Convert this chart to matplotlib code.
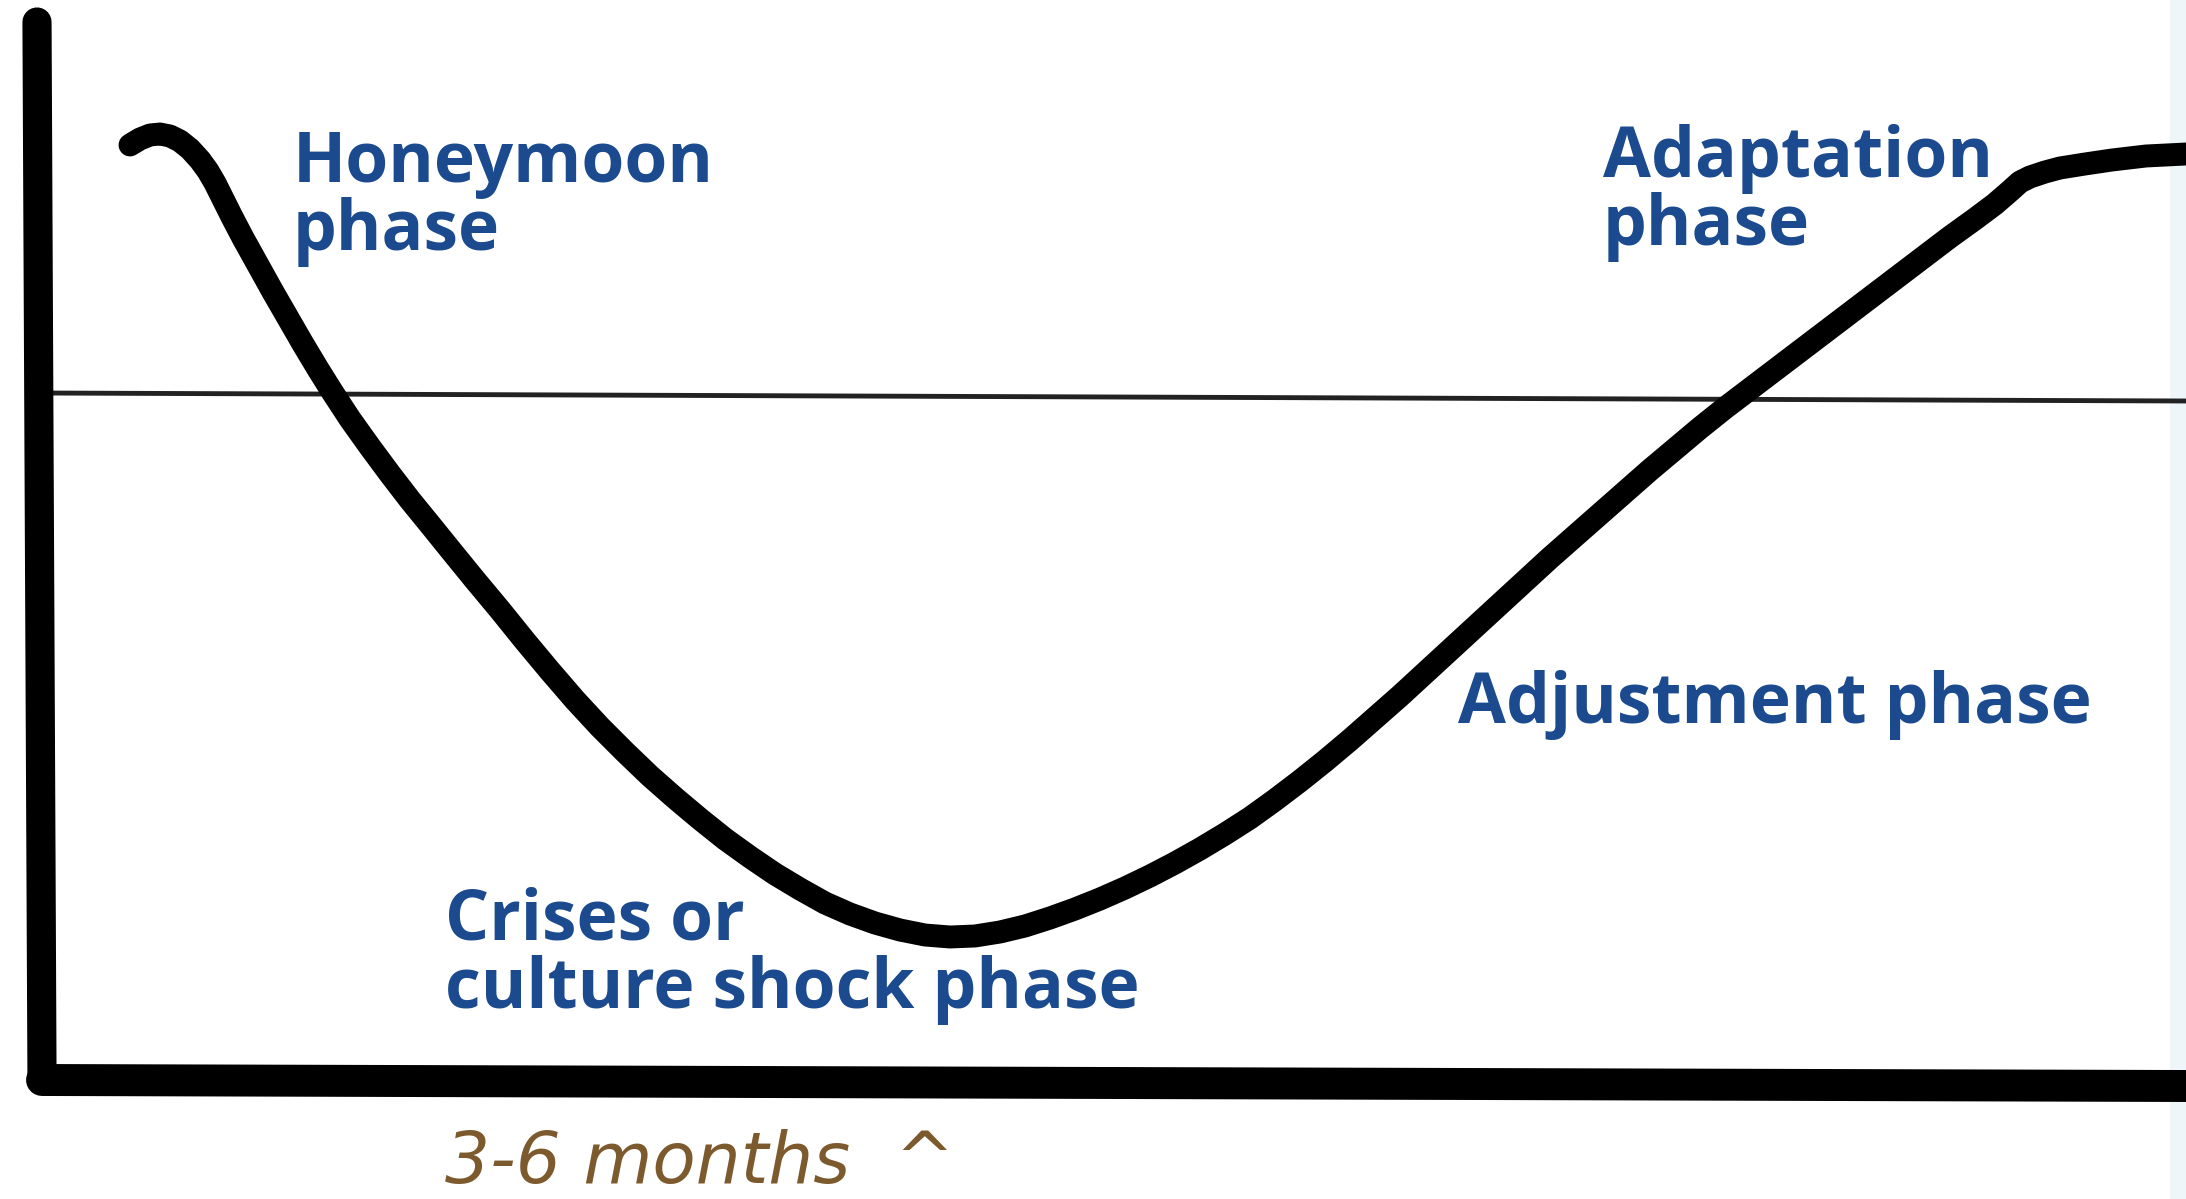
"""Culture shock U-curve diagram."""
import matplotlib.pyplot as plt

# drawing coordinates: x to the right, y downwards (same scale as the sketch)
curve_x = [130, 140, 150, 160, 170, 180, 190, 200, 208, 215, 222, 232, 243,
           258, 273, 288, 303, 318, 333, 350, 370, 390, 410, 432, 453, 475,
           500, 525, 550, 575, 600, 625, 650, 675, 700, 725, 750, 775, 800,
           825, 850, 875, 900, 925, 950, 975, 1000, 1025, 1050, 1075, 1100,
           1125, 1150, 1175, 1200, 1225, 1250, 1275, 1300, 1325, 1350, 1375,
           1400, 1425, 1450, 1475, 1500, 1525, 1550, 1575, 1600, 1625, 1650,
           1675, 1700, 1725, 1750, 1775, 1800, 1825, 1850, 1875, 1900, 1925,
           1950, 1975, 1995, 2010, 2020, 2030, 2045, 2060, 2085, 2112, 2146,
           2186]
curve_y = [145, 139, 135, 134, 136, 141, 149, 160, 171, 183, 197, 217, 238,
           265, 292, 318, 344, 369, 393, 419, 447, 474, 500, 527, 553, 580,
           610, 641, 671, 700, 727, 752, 776, 798, 819, 839, 857, 874, 889,
           903, 914, 923, 930, 935, 937, 936, 932, 926, 918, 909, 899,
           888, 876, 863, 849, 834, 818, 800, 781, 761, 740, 718,
           696, 673, 650, 627, 604, 581, 558, 536, 514, 492, 470,
           449, 428, 408, 389, 370, 351, 332, 313, 294, 275, 256,
           237, 219, 204, 191, 182, 177, 172, 168, 164, 160, 156,
           154]

yaxis_x = [37, 42]
yaxis_y = [22, 1078]
xaxis_x = [42, 2186]
xaxis_y = [1080, 1086]
ref_x = [40, 2186]
ref_y = [393, 401]

phase_labels = [
    ("Honeymoon", 293, 182),
    ("phase", 293, 250),
    ("Adaptation", 1603, 177),
    ("phase", 1603, 245),
    ("Adjustment phase", 1458, 723),
    ("Crises or", 445, 940),
    ("culture shock phase", 445, 1008),
]
time_label = ("3-6 months  ^", 445, 1183)

W, H = 2186, 1199
fig = plt.figure(figsize=(W / 100, H / 100), dpi=100)
ax = fig.add_axes([0, 0, 1, 1])
ax.set_xlim(0, W)
ax.set_ylim(H, 0)
ax.axis("off")

ax.axvspan(2170, W, color="#eef6f9", lw=0)

ax.plot(ref_x, ref_y, color="#222222", lw=3.5)
ax.plot(yaxis_x, yaxis_y, color="black", lw=21, solid_capstyle="round")
ax.plot(xaxis_x, xaxis_y, color="black", lw=23, solid_capstyle="round")
ax.plot(curve_x, curve_y, color="black", lw=16.5,
        solid_capstyle="round", solid_joinstyle="round")

for text, x, y in phase_labels:
    ax.text(x, y, text, color="#1b4a8e", fontsize=50, fontweight="bold",
            family="Open Sans", ha="left", va="baseline")

text, x, y = time_label
ax.text(x, y, text, color="#7d5a2e", fontsize=51, style="italic",
        family="DejaVu Sans", ha="left", va="baseline")

fig.savefig("out.png", dpi=100)
